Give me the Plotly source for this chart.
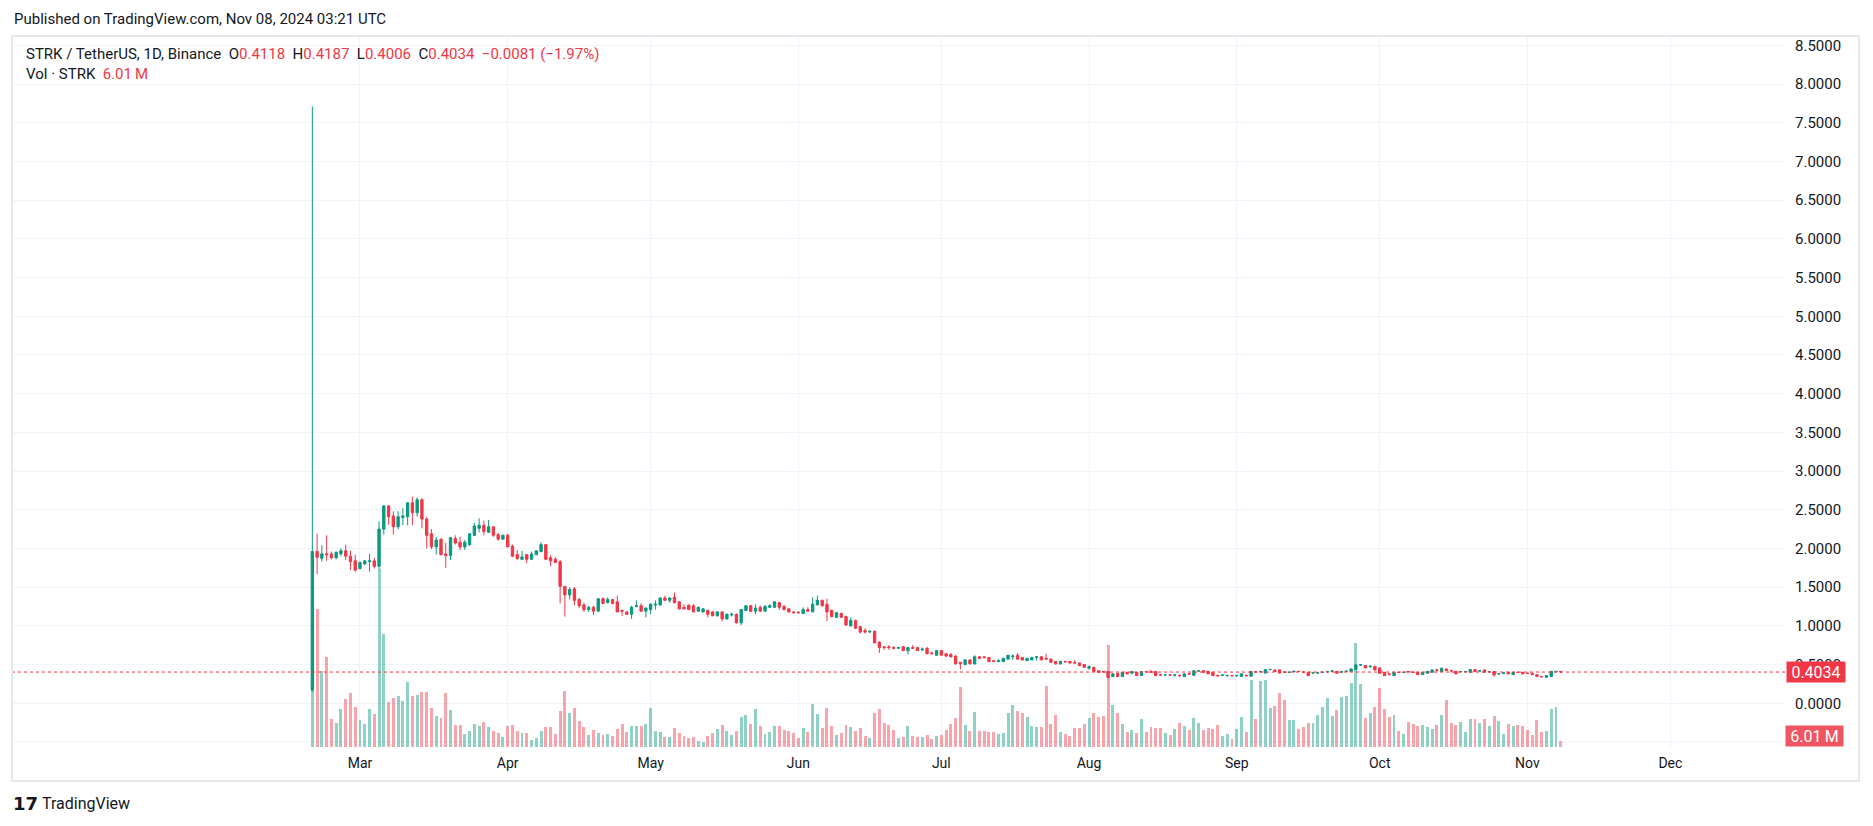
import pandas as pd
import plotly.graph_objects as go

# ---------------- data ----------------
dates = pd.date_range("2024-02-20", periods=263, freq="D")

opens = [0.17, 1.96, 1.873, 1.93, 1.93, 1.88, 1.93, 1.97, 1.90, 1.84,
         1.74, 1.80, 1.83, 1.84, 1.77, 2.25, 2.55, 2.42, 2.28, 2.40,
         2.41, 2.59, 2.46, 2.63, 2.38, 2.19, 2.02, 2.12, 1.93, 1.91,
         2.13, 2.08, 2.02, 2.05, 2.17, 2.26, 2.30, 2.21, 2.28, 2.18,
         2.12, 2.17, 2.03, 1.92, 1.86, 1.92, 1.86, 1.92, 1.96, 2.05,
         1.88, 1.86, 1.83, 1.51, 1.40, 1.48, 1.34, 1.27, 1.21, 1.24,
         1.19, 1.35, 1.30, 1.34, 1.31, 1.20, 1.18, 1.15, 1.25, 1.26,
         1.19, 1.21, 1.27, 1.27, 1.36, 1.33, 1.37, 1.31, 1.24, 1.27,
         1.26, 1.19, 1.18, 1.20, 1.18, 1.13, 1.18, 1.09, 1.14, 1.15,
         1.04, 1.20, 1.26, 1.19, 1.24, 1.19, 1.24, 1.24, 1.30, 1.25,
         1.22, 1.18, 1.18, 1.16, 1.21, 1.18, 1.27, 1.33, 1.28, 1.20,
         1.11, 1.16, 1.12, 1.00, 1.07, 0.99, 0.94, 0.92, 0.93, 0.79,
         0.73, 0.73, 0.72, 0.71, 0.73, 0.68, 0.72, 0.72, 0.69, 0.71,
         0.65, 0.62, 0.68, 0.64, 0.63, 0.61, 0.53, 0.50, 0.56, 0.51,
         0.60, 0.60, 0.59, 0.55, 0.54, 0.54, 0.57, 0.60, 0.62, 0.59,
         0.55, 0.56, 0.59, 0.60, 0.58, 0.57, 0.54, 0.51, 0.54, 0.54,
         0.525, 0.52, 0.50, 0.452, 0.465, 0.42, 0.41, 0.41, 0.345, 0.387,
         0.345, 0.40, 0.388, 0.40, 0.357, 0.41, 0.41, 0.41, 0.368, 0.364,
         0.368, 0.362, 0.362, 0.345, 0.382, 0.36, 0.415, 0.42, 0.413, 0.40,
         0.36, 0.36, 0.355, 0.36, 0.355, 0.345, 0.362, 0.35, 0.41, 0.405,
         0.39, 0.433, 0.43, 0.43, 0.405, 0.398, 0.405, 0.413, 0.405, 0.40,
         0.39, 0.39, 0.398, 0.405, 0.412, 0.413, 0.40, 0.41, 0.41, 0.435,
         0.493, 0.487, 0.475, 0.478, 0.456, 0.40, 0.38, 0.357, 0.402, 0.398,
         0.41, 0.405, 0.40, 0.37, 0.388, 0.40, 0.433, 0.41, 0.443, 0.425,
         0.413, 0.405, 0.407, 0.40, 0.435, 0.415, 0.43, 0.405, 0.41, 0.377,
         0.385, 0.40, 0.37, 0.402, 0.40, 0.39, 0.388, 0.37, 0.346, 0.336,
         0.345, 0.405, 0.4118]

highs = [7.71, 2.19, 2.04, 2.17, 1.96, 1.96, 2.00, 2.05, 1.97, 1.92,
         1.83, 1.85, 1.93, 1.88, 2.35, 2.56, 2.56, 2.48, 2.48, 2.52,
         2.60, 2.67, 2.66, 2.65, 2.41, 2.25, 2.15, 2.13, 2.07, 2.15,
         2.17, 2.15, 2.11, 2.19, 2.33, 2.39, 2.36, 2.37, 2.28, 2.20,
         2.18, 2.19, 2.05, 1.98, 1.97, 1.93, 1.96, 1.97, 2.08, 2.05,
         1.92, 1.89, 1.85, 1.51, 1.50, 1.50, 1.36, 1.30, 1.26, 1.26,
         1.36, 1.37, 1.37, 1.35, 1.39, 1.21, 1.19, 1.26, 1.33, 1.29,
         1.24, 1.29, 1.33, 1.37, 1.39, 1.37, 1.43, 1.32, 1.28, 1.27,
         1.28, 1.25, 1.23, 1.21, 1.19, 1.19, 1.19, 1.16, 1.17, 1.16,
         1.21, 1.27, 1.27, 1.28, 1.26, 1.27, 1.28, 1.32, 1.31, 1.27,
         1.23, 1.19, 1.18, 1.24, 1.24, 1.37, 1.39, 1.34, 1.35, 1.21,
         1.18, 1.17, 1.13, 1.11, 1.08, 1.00, 0.97, 0.94, 0.94, 0.80,
         0.74, 0.75, 0.74, 0.72, 0.74, 0.73, 0.75, 0.73, 0.72, 0.73,
         0.67, 0.69, 0.69, 0.65, 0.65, 0.62, 0.53, 0.57, 0.57, 0.62,
         0.61, 0.61, 0.60, 0.56, 0.57, 0.59, 0.62, 0.63, 0.65, 0.60,
         0.59, 0.60, 0.61, 0.61, 0.64, 0.58, 0.545, 0.55, 0.55, 0.545,
         0.56, 0.525, 0.50, 0.487, 0.47, 0.425, 0.415, 0.415, 0.39, 0.39,
         0.405, 0.405, 0.415, 0.405, 0.415, 0.415, 0.43, 0.415, 0.37, 0.372,
         0.37, 0.37, 0.364, 0.385, 0.386, 0.425, 0.43, 0.425, 0.415, 0.405,
         0.365, 0.37, 0.365, 0.363, 0.368, 0.385, 0.37, 0.42, 0.415, 0.42,
         0.44, 0.445, 0.435, 0.44, 0.41, 0.408, 0.418, 0.418, 0.41, 0.405,
         0.40, 0.40, 0.41, 0.415, 0.42, 0.418, 0.415, 0.42, 0.45, 0.51,
         0.505, 0.495, 0.485, 0.48, 0.46, 0.405, 0.385, 0.405, 0.405, 0.408,
         0.418, 0.41, 0.405, 0.405, 0.418, 0.435, 0.443, 0.458, 0.448, 0.43,
         0.418, 0.415, 0.416, 0.44, 0.44, 0.428, 0.435, 0.415, 0.415, 0.387,
         0.40, 0.405, 0.405, 0.407, 0.405, 0.395, 0.392, 0.373, 0.35, 0.36,
         0.418, 0.42, 0.4187]

lows = [0.15, 1.67, 1.83, 1.84, 1.86, 1.86, 1.90, 1.85, 1.72, 1.70,
        1.73, 1.79, 1.70, 1.74, 1.73, 2.18, 2.31, 2.18, 2.25, 2.30,
        2.30, 2.30, 2.41, 2.26, 2.00, 1.99, 1.92, 1.91, 1.75, 1.85,
        2.05, 1.98, 1.98, 2.03, 2.16, 2.21, 2.17, 2.20, 2.15, 2.10,
        2.12, 2.02, 1.89, 1.85, 1.85, 1.81, 1.85, 1.92, 1.95, 1.85,
        1.77, 1.81, 1.29, 1.12, 1.34, 1.27, 1.23, 1.18, 1.18, 1.14,
        1.18, 1.28, 1.29, 1.28, 1.18, 1.13, 1.14, 1.09, 1.24, 1.18,
        1.11, 1.15, 1.21, 1.26, 1.33, 1.30, 1.29, 1.21, 1.21, 1.21,
        1.18, 1.18, 1.18, 1.11, 1.13, 1.12, 1.06, 1.08, 1.12, 1.03,
        1.01, 1.19, 1.18, 1.15, 1.18, 1.19, 1.23, 1.23, 1.21, 1.20,
        1.17, 1.16, 1.16, 1.15, 1.18, 1.18, 1.27, 1.25, 1.06, 1.11,
        1.10, 1.10, 1.00, 0.99, 0.96, 0.90, 0.90, 0.91, 0.78, 0.65,
        0.69, 0.69, 0.70, 0.70, 0.68, 0.63, 0.70, 0.68, 0.67, 0.63,
        0.63, 0.62, 0.62, 0.60, 0.59, 0.50, 0.44, 0.49, 0.50, 0.50,
        0.57, 0.58, 0.53, 0.54, 0.53, 0.53, 0.57, 0.56, 0.57, 0.55,
        0.55, 0.56, 0.55, 0.56, 0.57, 0.52, 0.50, 0.50, 0.53, 0.515,
        0.515, 0.48, 0.46, 0.435, 0.405, 0.395, 0.395, 0.315, 0.34, 0.34,
        0.34, 0.375, 0.385, 0.355, 0.355, 0.40, 0.398, 0.355, 0.36, 0.36,
        0.36, 0.344, 0.344, 0.343, 0.374, 0.357, 0.41, 0.395, 0.378, 0.354,
        0.344, 0.355, 0.345, 0.35, 0.345, 0.34, 0.35, 0.345, 0.39, 0.40,
        0.385, 0.43, 0.405, 0.388, 0.395, 0.395, 0.40, 0.405, 0.395, 0.355,
        0.385, 0.385, 0.39, 0.40, 0.405, 0.385, 0.395, 0.405, 0.405, 0.43,
        0.488, 0.452, 0.455, 0.428, 0.385, 0.355, 0.357, 0.355, 0.395, 0.395,
        0.40, 0.395, 0.368, 0.368, 0.385, 0.398, 0.41, 0.405, 0.42, 0.40,
        0.378, 0.40, 0.40, 0.395, 0.405, 0.41, 0.395, 0.40, 0.344, 0.37,
        0.38, 0.375, 0.368, 0.393, 0.376, 0.38, 0.366, 0.34, 0.335, 0.333,
        0.34, 0.40, 0.4006]

closes = [1.96, 1.886, 1.93, 1.92, 1.88, 1.95, 1.97, 1.90, 1.83, 1.72,
          1.82, 1.84, 1.84, 1.77, 2.25, 2.55, 2.41, 2.28, 2.41, 2.42,
          2.59, 2.46, 2.63, 2.38, 2.17, 2.02, 2.11, 1.92, 1.91, 2.14,
          2.07, 2.02, 2.08, 2.19, 2.29, 2.30, 2.22, 2.28, 2.17, 2.12,
          2.17, 2.02, 1.90, 1.87, 1.89, 1.86, 1.93, 1.97, 2.05, 1.86,
          1.84, 1.82, 1.51, 1.40, 1.47, 1.33, 1.26, 1.21, 1.24, 1.19,
          1.35, 1.29, 1.34, 1.29, 1.18, 1.19, 1.15, 1.24, 1.26, 1.19,
          1.23, 1.28, 1.28, 1.36, 1.33, 1.36, 1.30, 1.22, 1.22, 1.21,
          1.18, 1.24, 1.22, 1.15, 1.13, 1.18, 1.09, 1.15, 1.15, 1.04,
          1.21, 1.26, 1.19, 1.23, 1.19, 1.25, 1.26, 1.31, 1.24, 1.21,
          1.18, 1.17, 1.17, 1.21, 1.19, 1.28, 1.33, 1.26, 1.18, 1.12,
          1.17, 1.11, 1.01, 1.07, 0.97, 0.92, 0.92, 0.93, 0.78, 0.72,
          0.72, 0.72, 0.71, 0.72, 0.68, 0.72, 0.71, 0.68, 0.70, 0.64,
          0.64, 0.68, 0.62, 0.61, 0.60, 0.51, 0.51, 0.56, 0.51, 0.60,
          0.58, 0.59, 0.54, 0.54, 0.55, 0.58, 0.62, 0.61, 0.57, 0.56,
          0.58, 0.59, 0.60, 0.56, 0.57, 0.53, 0.51, 0.54, 0.535, 0.52,
          0.52, 0.487, 0.465, 0.474, 0.41, 0.40, 0.405, 0.336, 0.38, 0.345,
          0.40, 0.38, 0.41, 0.357, 0.41, 0.405, 0.40, 0.357, 0.364, 0.368,
          0.364, 0.367, 0.356, 0.38, 0.377, 0.42, 0.42, 0.40, 0.38, 0.357,
          0.355, 0.366, 0.36, 0.355, 0.36, 0.38, 0.355, 0.41, 0.405, 0.41,
          0.435, 0.437, 0.41, 0.39, 0.40, 0.402, 0.413, 0.41, 0.40, 0.357,
          0.393, 0.394, 0.402, 0.41, 0.418, 0.388, 0.41, 0.415, 0.443, 0.495,
          0.497, 0.457, 0.48, 0.43, 0.388, 0.357, 0.376, 0.40, 0.398, 0.402,
          0.405, 0.398, 0.37, 0.40, 0.413, 0.43, 0.428, 0.452, 0.422, 0.42,
          0.38, 0.41, 0.411, 0.435, 0.41, 0.422, 0.40, 0.409, 0.366, 0.381,
          0.393, 0.38, 0.40, 0.398, 0.38, 0.385, 0.37, 0.345, 0.342, 0.357,
          0.413, 0.4115, 0.4034]

volume_m = [135.5, 131.7, 72.5, 85.9, 26.7, 22.9, 36.3, 45.8, 51.5, 38.2,
            25.8, 21.9, 36.3, 31.5, 169.8, 107.8, 42.9, 46.7, 48.7, 43.9,
            62.0, 48.7, 49.6, 52.5, 52.5, 37.2, 29.6, 27.7, 51.5, 35.3,
            21.0, 21.0, 12.4, 15.3, 21.9, 20.0, 23.9, 19.1, 15.3, 13.4,
            9.5, 20.0, 21.0, 15.3, 13.4, 13.4, 6.7, 8.6, 15.3, 19.1,
            19.1, 12.4, 34.3, 53.4, 32.4, 37.2, 24.8, 19.1, 11.4, 16.2,
            13.4, 11.4, 12.4, 10.5, 17.2, 21.9, 14.3, 20.0, 20.0, 20.0,
            21.9, 37.2, 15.3, 14.3, 9.5, 9.5, 18.1, 13.4, 10.5, 8.6,
            9.5, 5.7, 4.8, 10.5, 13.4, 17.2, 21.0, 15.3, 11.4, 15.3,
            28.6, 30.5, 21.9, 36.3, 20.0, 12.4, 14.3, 20.0, 20.0, 16.2,
            15.3, 13.4, 8.6, 18.1, 14.3, 41.0, 31.5, 18.1, 37.2, 20.0,
            11.4, 13.4, 21.0, 19.1, 15.3, 18.1, 10.5, 8.6, 32.4, 36.3,
            22.9, 21.0, 16.2, 8.6, 9.5, 20.0, 10.5, 9.5, 9.5, 11.4,
            7.6, 10.5, 11.4, 16.2, 21.9, 27.7, 57.2, 21.0, 15.3, 33.4,
            15.3, 15.3, 14.3, 14.3, 12.4, 13.4, 32.4, 40.1, 34.3, 32.4,
            28.6, 20.0, 19.1, 19.1, 58.2, 21.9, 30.5, 14.3, 12.4, 10.5,
            18.1, 18.1, 21.9, 27.7, 32.4, 28.6, 29.6, 97.3, 40.1, 32.4,
            21.9, 14.3, 16.2, 13.4, 26.7, 14.3, 19.1, 18.1, 18.1, 13.4,
            11.4, 17.2, 22.9, 20.0, 16.2, 27.7, 22.9, 16.2, 18.1, 17.2,
            21.0, 10.5, 12.4, 7.6, 17.2, 28.6, 14.3, 63.9, 26.7, 63.0,
            63.9, 37.2, 39.1, 51.5, 44.8, 25.8, 25.8, 17.2, 19.1, 22.9,
            22.9, 30.5, 38.2, 46.7, 29.6, 35.3, 47.7, 48.7, 61.1, 99.2,
            60.1, 27.7, 32.4, 38.2, 56.3, 36.3, 28.6, 30.5, 15.3, 12.4,
            23.9, 21.9, 20.0, 21.0, 19.1, 17.2, 21.0, 30.5, 44.8, 22.9,
            21.0, 23.9, 14.3, 26.7, 26.7, 22.9, 26.7, 20.0, 29.6, 24.8,
            12.4, 21.9, 20.0, 21.0, 20.0, 16.2, 11.4, 25.8, 14.3, 15.3,
            36.3, 38.2, 6.01]

month_ticks = ["2024-03-01", "2024-04-01", "2024-05-01", "2024-06-01", "2024-07-01",
               "2024-08-01", "2024-09-01", "2024-10-01", "2024-11-01", "2024-12-01"]
price_tickvals = [0.0, 0.5, 1.0, 1.5, 2.0, 2.5, 3.0, 3.5, 4.0, 4.5,
                  5.0, 5.5, 6.0, 6.5, 7.0, 7.5, 8.0, 8.5]
hidden_grid_price = -0.5

last_price_label = "0.4034"
last_volume_label = "6.01\u2009M"

# ---------------- styling ----------------
UP = "#089981"
DOWN = "#F23645"
UP_VOL = "rgba(8,153,129,0.45)"
DOWN_VOL = "rgba(242,54,69,0.45)"
TXT = "#131722"
GRID = "#f0f3fa"
FONT = "Roboto, 'Liberation Sans', Arial, sans-serif"

W, H = 1873, 826
PL, PR, PT, PB = 12, 1785, 36, 747  # plot area in pixels


def px_x(px):
    return (px - PL) / (PR - PL)


def px_y(py):
    return (PB - py) / (PB - PT)


vol_colors = [UP_VOL if c >= o else DOWN_VOL for o, c in zip(opens, closes)]

fig = go.Figure()
fig.add_trace(go.Bar(
    x=dates, y=volume_m, yaxis="y2",
    marker=dict(color=vol_colors, line=dict(width=0)),
    width=0.62 * 86400000, hoverinfo="skip", showlegend=False,
))
fig.add_trace(go.Candlestick(
    x=dates, open=opens, high=highs, low=lows, close=closes,
    increasing=dict(line=dict(color=UP, width=1), fillcolor=UP),
    decreasing=dict(line=dict(color=DOWN, width=1), fillcolor=DOWN),
    whiskerwidth=0, hoverinfo="skip", showlegend=False,
))

x0 = pd.Timestamp("2024-03-01") + pd.Timedelta(days=-73.03)
x1 = pd.Timestamp("2024-03-01") + pd.Timedelta(days=299.06)

fig.update_layout(
    width=W, height=H,
    margin=dict(l=PL, r=W - PR, t=PT, b=H - PB),
    paper_bgcolor="white", plot_bgcolor="white",
    font=dict(family=FONT, color=TXT, size=14),
    showlegend=False, bargap=0,
    xaxis=dict(
        type="date", range=[x0, x1], rangeslider=dict(visible=False),
        tickvals=month_ticks, tickformat="%b",
        showgrid=True, gridcolor=GRID, gridwidth=1,
        showline=False, zeroline=False, ticks="",
        tickfont=dict(size=14, color=TXT), ticklabelstandoff=6,
    ),
    yaxis=dict(
        side="right", range=[-0.565, 8.621], tickvals=price_tickvals,
        tickformat=".4f", showgrid=True, gridcolor=GRID, gridwidth=1,
        showline=False, zeroline=False, ticks="",
        tickfont=dict(size=15, color=TXT), ticklabelstandoff=9,
    ),
    yaxis2=dict(
        overlaying="y", range=[0, 678.4], visible=False,
        showgrid=False, zeroline=False,
    ),
)

# grid line below zero (its label is hidden behind the volume tag)
fig.add_shape(type="line", xref="paper", yref="y", x0=0, x1=1,
              y0=hidden_grid_price, y1=hidden_grid_price,
              line=dict(color=GRID, width=1), layer="below")

# last price dotted line
fig.add_shape(type="line", xref="paper", yref="y", x0=0, x1=1,
              y0=float(last_price_label), y1=float(last_price_label),
              line=dict(color=DOWN, width=1, dash="dot"), layer="above")

# frame around chart
fig.add_shape(type="rect", xref="paper", yref="paper",
              x0=px_x(12), x1=px_x(1859), y0=px_y(781), y1=px_y(36),
              line=dict(color="#e6e8ee", width=2), fillcolor="rgba(0,0,0,0)",
              layer="above")

ann = []
ann.append(dict(text="Published on TradingView.com, Nov 08, 2024 03:21 UTC",
                x=px_x(12), y=px_y(19), xanchor="left", yanchor="middle",
                font=dict(size=15, color=TXT)))
red = DOWN
legend1 = ("STRK / TetherUS, 1D, Binance&nbsp;&nbsp;"
           f"O<span style='color:{red}'>0.4118</span>&nbsp;&nbsp;"
           f"H<span style='color:{red}'>0.4187</span>&nbsp;&nbsp;"
           f"L<span style='color:{red}'>0.4006</span>&nbsp;&nbsp;"
           f"C<span style='color:{red}'>0.4034</span>&nbsp;&nbsp;"
           f"<span style='color:{red}'>\u22120.0081 (\u22121.97%)</span>")
ann.append(dict(text=legend1, x=px_x(24), y=px_y(54), xanchor="left", yanchor="middle",
                font=dict(size=15, color=TXT)))
ann.append(dict(text=f"Vol \u00b7 STRK&nbsp;&nbsp;<span style='color:{red}'>6.01\u2009M</span>",
                x=px_x(24), y=px_y(74), xanchor="left", yanchor="middle",
                font=dict(size=15, color=TXT)))
# price / volume labels on the scale
ann.append(dict(text=last_price_label, x=px_x(1816), y=float(last_price_label), yref="y",
                xanchor="center", yanchor="middle", bgcolor=DOWN, borderpad=1,
                width=56, height=18, font=dict(size=16, color="white")))
ann.append(dict(text=last_volume_label, x=px_x(1814.5), y=px_y(735.5),
                xanchor="center", yanchor="middle", bgcolor="#ef5661", borderpad=1,
                width=55, height=18, font=dict(size=16, color="white")))
# TradingView footer
ann.append(dict(text="<b>17</b>", x=px_x(11), y=px_y(804), xanchor="left", yanchor="middle",
                font=dict(size=18, color=TXT, family="'DejaVu Sans', sans-serif")))
ann.append(dict(text="TradingView", x=px_x(40), y=px_y(804), xanchor="left", yanchor="middle",
                font=dict(size=16, color=TXT)))

for a in ann:
    a.setdefault("xref", "paper")
    a.setdefault("yref", "paper")
    a["showarrow"] = False
fig.update_layout(annotations=ann)

fig.write_html("out.html", config={"displayModeBar": False},
               post_script="document.body.style.margin='0px';document.body.style.padding='0px';")
